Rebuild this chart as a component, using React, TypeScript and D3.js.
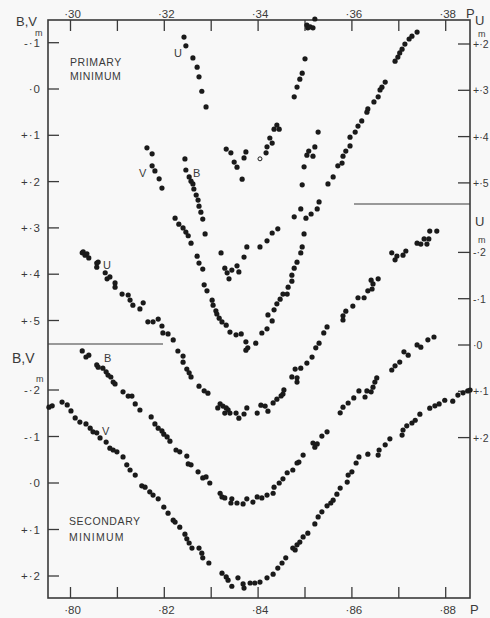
import React from "react";
import * as d3 from "d3";

// Phase ticks (top axis: primary minimum, bottom axis: secondary minimum)
const primaryPhaseTicks = [0.30, 0.31, 0.32, 0.33, 0.34, 0.35, 0.36, 0.37, 0.38];
const primaryPhaseLabels = ["·30", "", "·32", "", "·34", "", "·36", "", "·38"];
const secondaryPhaseTicks = [0.80, 0.81, 0.82, 0.83, 0.84, 0.85, 0.86, 0.87, 0.88];
const secondaryPhaseLabels = ["·80", "", "·82", "", "·84", "", "·86", "", "·88"];

// Magnitude ticks
const primaryBVTicks = [-0.1, 0, 0.1, 0.2, 0.3, 0.4, 0.5];
const primaryBVLabels = ["-·1", "·0", "+·1", "+·2", "+·3", "+·4", "+·5"];
const secondaryBVTicks = [-0.2, -0.1, 0, 0.1, 0.2];
const secondaryBVLabels = ["-·2", "-·1", "·0", "+·1", "+·2"];
const primaryUTicks = [0.2, 0.3, 0.4, 0.5];
const primaryULabels = ["+·2", "+·3", "+·4", "+·5"];
const secondaryUTicks = [-0.2, -0.1, 0, 0.1, 0.2];
const secondaryULabels = ["-·2", "-·1", "·0", "+·1", "+·2"];

// Primary minimum, [phase, magnitude]
const primaryU: [number, number][] = [
  [0.3242, 0.185], [0.3246, 0.204], [0.3261, 0.230], [0.3270, 0.250], [0.3274, 0.271],
  [0.3280, 0.302], [0.3289, 0.336], [0.3332, 0.427], [0.3342, 0.435], [0.3349, 0.455],
  [0.3355, 0.466], [0.3366, 0.492], [0.3370, 0.446], [0.3374, 0.433], [0.3417, 0.435],
  [0.3419, 0.422], [0.3425, 0.403], [0.3430, 0.414], [0.3434, 0.384], [0.3440, 0.375],
  [0.3445, 0.384], [0.3477, 0.314], [0.3483, 0.293], [0.3489, 0.276], [0.3494, 0.263],
  [0.3500, 0.232], [0.3504, 0.159], [0.3506, 0.165], [0.3511, 0.163], [0.3517, 0.165],
  [0.3521, 0.146],
];
const primaryUOpen: [number, number][] = [[0.3404, 0.448]];

const primaryB: [number, number][] = [
  [0.3244, 0.151], [0.3246, 0.175], [0.3253, 0.190], [0.3257, 0.199], [0.3261, 0.205],
  [0.3263, 0.216], [0.3268, 0.229], [0.3272, 0.240], [0.3274, 0.253], [0.3278, 0.266],
  [0.3282, 0.281], [0.3287, 0.313], [0.3321, 0.354], [0.3329, 0.387], [0.3334, 0.397],
  [0.3338, 0.410], [0.3344, 0.391], [0.3355, 0.382], [0.3359, 0.395], [0.3370, 0.363],
  [0.3376, 0.341], [0.3404, 0.341], [0.3419, 0.328], [0.3430, 0.311], [0.3442, 0.302],
  [0.3477, 0.276], [0.3491, 0.259], [0.3502, 0.279], [0.3513, 0.270], [0.3526, 0.259],
  [0.3530, 0.244], [0.3494, 0.207], [0.3498, 0.168], [0.3504, 0.143], [0.3508, 0.134],
  [0.3517, 0.145], [0.3521, 0.125], [0.3528, 0.093],
];

const primaryV: [number, number][] = [
  [0.3163, 0.127], [0.3174, 0.140], [0.3174, 0.166], [0.3180, 0.177], [0.3189, 0.194],
  [0.3195, 0.214], [0.3223, 0.279], [0.3231, 0.292], [0.3240, 0.300], [0.3246, 0.309],
  [0.3251, 0.317], [0.3257, 0.333], [0.3270, 0.361], [0.3274, 0.376], [0.3282, 0.389],
  [0.3285, 0.423], [0.3291, 0.436], [0.3302, 0.456], [0.3304, 0.467], [0.3310, 0.479],
  [0.3312, 0.486], [0.3317, 0.495], [0.3323, 0.503], [0.3332, 0.510], [0.3340, 0.525],
  [0.3353, 0.531], [0.3364, 0.529], [0.3374, 0.546], [0.3378, 0.559], [0.3374, 0.564],
  [0.3395, 0.549], [0.3408, 0.527], [0.3419, 0.518], [0.3421, 0.488], [0.3430, 0.501],
  [0.3434, 0.477], [0.3440, 0.464], [0.3447, 0.454], [0.3453, 0.443], [0.3462, 0.443],
  [0.3464, 0.428], [0.3472, 0.415], [0.3472, 0.402], [0.3477, 0.387], [0.3483, 0.374],
  [0.3491, 0.354], [0.3494, 0.341], [0.3498, 0.313],
  [0.3549, 0.205], [0.3560, 0.190], [0.3570, 0.166], [0.3579, 0.160], [0.3581, 0.145],
  [0.3587, 0.134], [0.3596, 0.123], [0.3596, 0.104], [0.3607, 0.093], [0.3613, 0.080],
  [0.3621, 0.069], [0.3632, 0.050], [0.3634, 0.043], [0.3647, 0.028], [0.3656, 0.017],
  [0.3660, 0.002], [0.3664, -0.004], [0.3671, -0.015], [0.3692, -0.060], [0.3698, -0.069],
  [0.3702, -0.078], [0.3707, -0.086], [0.3713, -0.097], [0.3722, -0.108], [0.3728, -0.114],
  [0.3739, -0.123],
];

// Secondary minimum, [phase, magnitude]
const secondaryU: [number, number][] = [
  [0.8025, -0.199], [0.8027, -0.201], [0.8031, -0.194], [0.8035, -0.197], [0.8039, -0.188],
  [0.8056, -0.177], [0.8056, -0.168], [0.8059, -0.179], [0.8074, -0.156], [0.8078, -0.143],
  [0.8084, -0.147], [0.8095, -0.134], [0.8095, -0.125], [0.8110, -0.110], [0.8123, -0.108],
  [0.8127, -0.097], [0.8133, -0.086], [0.8148, -0.078], [0.8155, -0.091], [0.8165, -0.050],
  [0.8176, -0.050], [0.8187, -0.056], [0.8195, -0.041], [0.8197, -0.026], [0.8208, -0.024],
  [0.8219, -0.011], [0.8229, 0.013], [0.8240, 0.024], [0.8240, 0.037], [0.8248, 0.052],
  [0.8253, 0.060], [0.8257, 0.069], [0.8274, 0.089], [0.8285, 0.099], [0.8293, 0.104],
  [0.8314, 0.136], [0.8319, 0.127], [0.8325, 0.132], [0.8329, 0.147], [0.8332, 0.136],
  [0.8336, 0.140], [0.8340, 0.147], [0.8353, 0.147], [0.8359, 0.158], [0.8370, 0.149],
  [0.8376, 0.136], [0.8398, 0.147], [0.8406, 0.130], [0.8415, 0.132], [0.8421, 0.143],
  [0.8432, 0.125], [0.8440, 0.117], [0.8449, 0.110], [0.8453, 0.106], [0.8455, 0.097],
  [0.8472, 0.069], [0.8479, 0.052], [0.8483, 0.071], [0.8483, 0.080], [0.8491, 0.050],
  [0.8504, 0.039], [0.8515, 0.026], [0.8523, 0.006], [0.8530, -0.004], [0.8540, -0.026],
  [0.8547, -0.039], [0.8581, -0.054], [0.8581, -0.063], [0.8587, -0.073], [0.8602, -0.084],
  [0.8613, -0.102], [0.8626, -0.102], [0.8634, -0.117], [0.8643, -0.121], [0.8645, -0.132],
  [0.8641, -0.140], [0.8656, -0.143], [0.8685, -0.199], [0.8692, -0.184], [0.8696, -0.192],
  [0.8709, -0.194], [0.8715, -0.203], [0.8739, -0.220], [0.8747, -0.218], [0.8754, -0.229],
  [0.8760, -0.218], [0.8764, -0.229], [0.8766, -0.246], [0.8781, -0.246],
];

const secondaryB: [number, number][] = [
  [0.8025, -0.284], [0.8033, -0.271], [0.8039, -0.275], [0.8056, -0.254], [0.8059, -0.249],
  [0.8069, -0.247], [0.8076, -0.239], [0.8080, -0.232], [0.8086, -0.228], [0.8091, -0.217],
  [0.8095, -0.213], [0.8112, -0.196], [0.8123, -0.187], [0.8131, -0.187], [0.8138, -0.170],
  [0.8148, -0.157], [0.8172, -0.142], [0.8180, -0.127], [0.8187, -0.118], [0.8195, -0.112],
  [0.8199, -0.105], [0.8206, -0.099], [0.8212, -0.090], [0.8225, -0.071], [0.8233, -0.067],
  [0.8248, -0.058], [0.8251, -0.041], [0.8257, -0.039], [0.8272, -0.024], [0.8282, -0.011],
  [0.8289, -0.013], [0.8297, 0.000], [0.8319, 0.022], [0.8323, 0.030], [0.8329, 0.032],
  [0.8342, 0.043], [0.8344, 0.034], [0.8355, 0.043], [0.8368, 0.045], [0.8376, 0.034],
  [0.8389, 0.041], [0.8398, 0.030], [0.8408, 0.032], [0.8419, 0.026], [0.8432, 0.022],
  [0.8434, 0.009], [0.8445, 0.000], [0.8453, -0.009], [0.8462, -0.022], [0.8474, -0.028],
  [0.8483, -0.043], [0.8487, -0.045], [0.8496, -0.060], [0.8517, -0.086], [0.8521, -0.077],
  [0.8526, -0.084], [0.8536, -0.101], [0.8547, -0.110], [0.8575, -0.151], [0.8581, -0.163],
  [0.8592, -0.172], [0.8604, -0.183], [0.8615, -0.198], [0.8628, -0.185], [0.8632, -0.198],
  [0.8641, -0.196], [0.8645, -0.206], [0.8649, -0.217], [0.8653, -0.226], [0.8685, -0.243],
  [0.8692, -0.252], [0.8702, -0.260], [0.8711, -0.282], [0.8720, -0.275], [0.8739, -0.297],
  [0.8747, -0.292], [0.8762, -0.308], [0.8775, -0.314],
];

const secondaryV: [number, number][] = [
  [0.7954, -0.163], [0.7961, -0.166], [0.7982, -0.174], [0.7993, -0.168], [0.8001, -0.155],
  [0.8010, -0.140], [0.8020, -0.131], [0.8033, -0.127], [0.8042, -0.118], [0.8048, -0.110],
  [0.8056, -0.108], [0.8063, -0.097], [0.8076, -0.088], [0.8084, -0.075], [0.8091, -0.071],
  [0.8099, -0.067], [0.8112, -0.056], [0.8120, -0.039], [0.8127, -0.028], [0.8138, -0.017],
  [0.8152, 0.006], [0.8159, 0.009], [0.8169, 0.019], [0.8176, 0.026], [0.8187, 0.034],
  [0.8199, 0.052], [0.8208, 0.065], [0.8219, 0.080], [0.8223, 0.084], [0.8233, 0.095],
  [0.8244, 0.110], [0.8248, 0.120], [0.8253, 0.129], [0.8259, 0.140], [0.8274, 0.140],
  [0.8280, 0.151], [0.8282, 0.161], [0.8295, 0.172], [0.8323, 0.194], [0.8332, 0.202],
  [0.8336, 0.209], [0.8344, 0.222], [0.8357, 0.204], [0.8368, 0.217], [0.8370, 0.226],
  [0.8383, 0.215], [0.8393, 0.215], [0.8404, 0.213], [0.8419, 0.204], [0.8432, 0.196],
  [0.8442, 0.183], [0.8451, 0.172], [0.8459, 0.161], [0.8474, 0.140], [0.8479, 0.144],
  [0.8483, 0.133], [0.8489, 0.127], [0.8496, 0.116], [0.8506, 0.108], [0.8521, 0.088],
  [0.8528, 0.073], [0.8536, 0.062], [0.8547, 0.049], [0.8555, 0.043], [0.8560, 0.037],
  [0.8568, 0.024], [0.8575, 0.011], [0.8590, -0.002], [0.8592, -0.017], [0.8600, -0.024],
  [0.8609, -0.043], [0.8615, -0.056], [0.8634, -0.062], [0.8656, -0.060], [0.8658, -0.071],
  [0.8671, -0.082], [0.8681, -0.095], [0.8707, -0.103], [0.8709, -0.114], [0.8717, -0.123],
  [0.8728, -0.129], [0.8735, -0.135], [0.8745, -0.148], [0.8766, -0.161], [0.8777, -0.166],
  [0.8786, -0.170], [0.8798, -0.178], [0.8815, -0.176], [0.8826, -0.189], [0.8837, -0.194],
  [0.8847, -0.198], [0.8852, -0.200],
];

const W = 490;
const H = 618;
const frame = { left: 48, right: 470, top: 20, bottom: 598 };
const ink = "#1a1a1a";
const axisInk = "#3a3a3a";
const font = "'Liberation Sans', Arial, Helvetica, sans-serif";

export default function App() {
  const xPrimary = d3.scaleLinear().domain([0.3, 0.38]).range([70.5, 445.7]);
  const xSecondary = d3.scaleLinear().domain([0.8, 0.88]).range([70.5, 445.7]);
  const yPrimaryBV = d3.scaleLinear().domain([0, 0.5]).range([89, 320.5]);
  const ySecondaryBV = d3.scaleLinear().domain([0, 0.2]).range([483, 576]);
  const yPrimaryU = d3.scaleLinear().domain([0.2, 0.5]).range([44, 182.9]);
  const ySecondaryU = d3.scaleLinear().domain([0, 0.2]).range([345, 437.6]);

  const r = 2.6;
  const dots = (
    data: [number, number][],
    x: d3.ScaleLinear<number, number>,
    y: d3.ScaleLinear<number, number>,
    key: string
  ) =>
    data.map(([p, m], i) => (
      <circle key={`${key}-${i}`} cx={x(p)} cy={y(m)} r={r} fill={ink} />
    ));

  const tickFont = { fontFamily: font, fontSize: 11.5, fill: axisInk } as const;
  const rightFont = { fontFamily: font, fontSize: 10.5, fill: axisInk } as const;

  return (
    <svg
      width={W}
      height={H}
      viewBox={`0 0 ${W} ${H}`}
      style={{ position: "absolute", left: 0, top: 0, background: "#f8f8f8" }}
    >
      <rect x={0} y={0} width={W} height={H} fill="#f8f8f8" />

      {/* frame */}
      <rect
        x={frame.left}
        y={frame.top}
        width={frame.right - frame.left}
        height={frame.bottom - frame.top}
        fill="none"
        stroke={axisInk}
        strokeWidth={1.6}
      />
      {/* panel separators */}
      <line x1={frame.left} x2={163} y1={344} y2={344} stroke={axisInk} strokeWidth={1.2} />
      <line x1={354} x2={frame.right} y1={204} y2={204} stroke={axisInk} strokeWidth={1.2} />

      {/* top phase axis */}
      {primaryPhaseTicks.map((t, i) => (
        <g key={`pt-${i}`}>
          <line x1={xPrimary(t)} x2={xPrimary(t)} y1={frame.top} y2={frame.top + 11} stroke={axisInk} strokeWidth={1.3} />
          {primaryPhaseLabels[i] && (
            <text x={xPrimary(t) + 2} y={18} textAnchor="middle" {...tickFont}>
              {primaryPhaseLabels[i]}
            </text>
          )}
        </g>
      ))}
      <text x={466} y={18} {...tickFont} fontSize={13}>P</text>

      {/* bottom phase axis */}
      {secondaryPhaseTicks.map((t, i) => (
        <g key={`st-${i}`}>
          <line x1={xSecondary(t)} x2={xSecondary(t)} y1={frame.bottom - 11} y2={frame.bottom} stroke={axisInk} strokeWidth={1.3} />
          {secondaryPhaseLabels[i] && (
            <text x={xSecondary(t) + 2} y={614} textAnchor="middle" {...tickFont}>
              {secondaryPhaseLabels[i]}
            </text>
          )}
        </g>
      ))}
      <text x={470} y={614} {...tickFont} fontSize={13}>P</text>

      {/* left magnitude axes */}
      {primaryBVTicks.map((t, i) => (
        <g key={`lb-${i}`}>
          <line x1={frame.left} x2={frame.left + 11} y1={yPrimaryBV(t)} y2={yPrimaryBV(t)} stroke={axisInk} strokeWidth={1.3} />
          <text x={41} y={yPrimaryBV(t) + 4} textAnchor="end" letterSpacing={1} {...tickFont}>
            {primaryBVLabels[i]}
          </text>
        </g>
      ))}
      {secondaryBVTicks.map((t, i) => (
        <g key={`ls-${i}`}>
          <line x1={frame.left} x2={frame.left + 11} y1={ySecondaryBV(t)} y2={ySecondaryBV(t)} stroke={axisInk} strokeWidth={1.3} />
          <text x={41} y={ySecondaryBV(t) + 4} textAnchor="end" letterSpacing={1} {...tickFont}>
            {secondaryBVLabels[i]}
          </text>
        </g>
      ))}
      <text x={16} y={26} {...tickFont} fontSize={13}>B,V</text>
      <text x={35} y={35.5} {...tickFont} fontSize={9}>m</text>
      <text x={12} y={363} {...tickFont} fontSize={14}>B,V</text>
      <text x={36} y={382} {...tickFont} fontSize={9}>m</text>

      {/* right magnitude axes */}
      {primaryUTicks.map((t, i) => (
        <g key={`ru-${i}`}>
          <line x1={frame.right - 12} x2={frame.right} y1={yPrimaryU(t)} y2={yPrimaryU(t)} stroke={axisInk} strokeWidth={1.3} />
          <text x={473} y={yPrimaryU(t) + 4} {...rightFont}>
            {primaryULabels[i]}
          </text>
        </g>
      ))}
      {secondaryUTicks.map((t, i) => (
        <g key={`rs-${i}`}>
          <line x1={frame.right - 12} x2={frame.right} y1={ySecondaryU(t)} y2={ySecondaryU(t)} stroke={axisInk} strokeWidth={1.3} />
          <text x={473} y={ySecondaryU(t) + 4} {...rightFont}>
            {secondaryULabels[i]}
          </text>
        </g>
      ))}
      <text x={475} y={25} {...tickFont} fontSize={13}>U</text>
      <text x={478} y={37} {...tickFont} fontSize={9}>m</text>
      <text x={475} y={226} {...tickFont} fontSize={13}>U</text>
      <text x={478} y={243} {...tickFont} fontSize={9}>m</text>

      {/* panel titles */}
      <text x={70} y={66} {...tickFont} fontSize={10.5} letterSpacing={0.6}>PRIMARY</text>
      <text x={70} y={80} {...tickFont} fontSize={10.5} letterSpacing={0.6}>MINIMUM</text>
      <text x={69} y={525} {...tickFont} fontSize={10.5} letterSpacing={0.6}>SECONDARY</text>
      <text x={69} y={541} {...tickFont} fontSize={10.5} letterSpacing={1.2}>MINIMUM</text>

      {/* curve labels */}
      <text x={174} y={57} {...tickFont} fontSize={11}>U</text>
      <text x={139} y={177} {...tickFont} fontSize={11}>V</text>
      <text x={193} y={177} {...tickFont} fontSize={11}>B</text>
      <text x={103} y={269} {...tickFont} fontSize={11}>U</text>
      <text x={104} y={362} {...tickFont} fontSize={11}>B</text>
      <text x={102} y={435} {...tickFont} fontSize={11}>V</text>

      {/* observations */}
      {dots(primaryU, xPrimary, yPrimaryU, "pu")}
      {primaryUOpen.map(([p, m], i) => (
        <circle key={`puo-${i}`} cx={xPrimary(p)} cy={yPrimaryU(m)} r={2} fill="none" stroke={ink} strokeWidth={1} />
      ))}
      {dots(primaryB, xPrimary, yPrimaryBV, "pb")}
      {dots(primaryV, xPrimary, yPrimaryBV, "pv")}
      {dots(secondaryU, xSecondary, ySecondaryU, "su")}
      {dots(secondaryB, xSecondary, ySecondaryBV, "sb")}
      {dots(secondaryV, xSecondary, ySecondaryBV, "sv")}
    </svg>
  );
}
